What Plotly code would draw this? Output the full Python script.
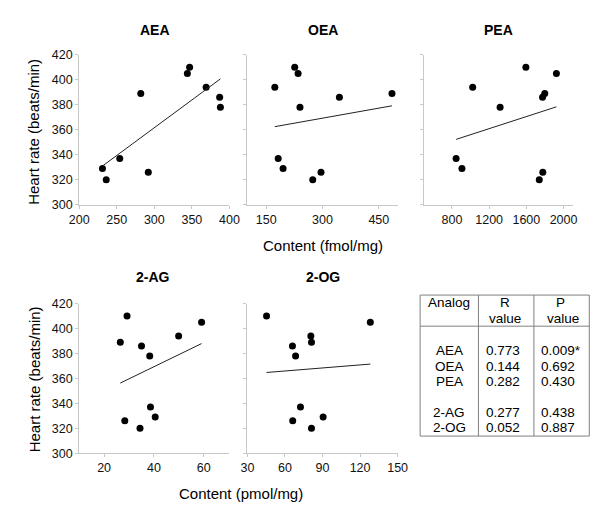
import numpy as np
import plotly.graph_objects as go

W, H = 600, 508

# ---------------- data ----------------
heart_rate = [329, 320, 337, 389, 326, 405, 410, 394, 386, 378]

aea_x = [231, 236, 254, 282, 292, 344, 347, 369, 387, 388]
aea_y = [329, 320, 337, 389, 326, 405, 410, 394, 386, 378]

oea_x = [226, 235, 173, 345, 485, 240, 182, 195, 296, 274]
oea_y = [410, 405, 394, 386, 389, 378, 337, 329, 326, 320]

pea_x = [1595, 1923, 1023, 1798, 1774, 1318, 845, 908, 1777, 1739]
pea_y = [410, 405, 394, 389, 386, 378, 337, 329, 326, 320]

ag_x = [29.2, 59.1, 49.9, 26.5, 35.0, 38.3, 38.6, 40.5, 28.3, 34.4]
ag_y = [410, 405, 394, 389, 386, 378, 337, 329, 326, 320]

og_x = [45.3, 128.2, 80.7, 81.2, 66.0, 68.5, 72.4, 90.5, 66.2, 81.2]
og_y = [410, 405, 394, 389, 386, 378, 337, 329, 326, 320]

panel_titles = ["AEA", "OEA", "PEA", "2-AG", "2-OG"]

table_analogs = ["AEA", "OEA", "PEA", "2-AG", "2-OG"]
table_r = ["0.773", "0.144", "0.282", "0.277", "0.052"]
table_p = ["0.009*", "0.692", "0.430", "0.438", "0.887"]

# ---------------- layout helpers ----------------
def fx(px):
    return px / W

def fy(py):
    return 1 - py / H

FONT = "Liberation Sans, Arial, sans-serif"
AX_COL = "#c8c8c8"

panels = [
    # x data, y data, x domain px, row, range, tick0, dtick
    (aea_x, aea_y, (63.3, 218.7), 0, [200, 400], 200, 50),
    (oea_x, oea_y, (237.3, 392.7), 0, [100, 500], 150, 150),
    (pea_x, pea_y, (420.0, 574.0), 0, [500, 2100], 800, 400),
    (ag_x, ag_y, (63.3, 218.0), 1, [10, 70], 0, 20),
    (og_x, og_y, (237.3, 392.7), 1, [30, 150], 30, 30),
]
row_y = [(41.0, 195.0), (296.7, 450.7)]

fig = go.Figure()
layout = dict(
    width=W, height=H,
    margin=dict(l=0, r=0, t=0, b=0),
    paper_bgcolor="white", plot_bgcolor="white",
    showlegend=False,
    font=dict(family=FONT, color="#000000", size=12.5),
)

annotations = []
shapes = []

for i, (xs, ys, (x0, x1), row, rng, t0, dt) in enumerate(panels):
    n = i + 1
    xa = "x" if n == 1 else f"x{n}"
    ya = "y" if n == 1 else f"y{n}"
    fig.add_trace(go.Scatter(
        x=xs, y=ys, mode="markers", xaxis=xa, yaxis=ya,
        marker=dict(color="black", size=7), cliponaxis=False,
    ))
    slope, icpt = np.polyfit(xs, ys, 1)
    lx = np.array([min(xs), max(xs)])
    fig.add_trace(go.Scatter(
        x=lx, y=slope * lx + icpt, mode="lines", xaxis=xa, yaxis=ya,
        line=dict(color="#222222", width=1),
    ))
    y0p, y1p = row_y[row]
    layout["xaxis" if n == 1 else f"xaxis{n}"] = dict(
        domain=[fx(x0), fx(x1)], anchor=ya, range=rng,
        tick0=t0, dtick=dt, tickmode="linear",
        showline=True, linecolor=AX_COL, linewidth=1,
        ticks="outside", ticklen=3, tickcolor=AX_COL,
        showgrid=False, zeroline=False,
        tickfont=dict(size=12.5, family=FONT, color="#111111"),
    )
    layout["yaxis" if n == 1 else f"yaxis{n}"] = dict(
        domain=[fy(y1p), fy(y0p)], anchor=xa, range=[300, 420],
        tick0=300, dtick=20, tickmode="linear",
        showline=True, linecolor=AX_COL, linewidth=1,
        ticks="outside", ticklen=3, tickcolor=AX_COL,
        showgrid=False, zeroline=False,
        showticklabels=(n in (1, 4)),
        tickfont=dict(size=12.5, family=FONT, color="#111111"),
    )

# panel titles
title_pos = [(141.3, 15), (315.5, 15), (496.8, 15), (139.2, 269.3), (315.3, 269.3)]
for t, (px, py) in zip(panel_titles, title_pos):
    annotations.append(dict(
        text=f"<b>{t}</b>", x=fx(px), y=fy(py), xref="paper", yref="paper",
        xanchor="center", yanchor="middle", showarrow=False,
        font=dict(size=14, family=FONT, color="#000000"),
    ))

# axis titles
for py in (120, 374.5):
    annotations.append(dict(
        text="Heart rate (beats/min)", x=fx(16.7), y=fy(py),
        xref="paper", yref="paper", xanchor="center", yanchor="middle",
        textangle=-90, showarrow=False,
        font=dict(size=15, family=FONT, color="#000000"),
    ))
annotations.append(dict(
    text="Content (fmol/mg)", x=fx(315), y=fy(237.3), xref="paper", yref="paper",
    xanchor="center", yanchor="middle", showarrow=False,
    font=dict(size=15, family=FONT, color="#000000"),
))
annotations.append(dict(
    text="Content (pmol/mg)", x=fx(231), y=fy(492), xref="paper", yref="paper",
    xanchor="center", yanchor="middle", showarrow=False,
    font=dict(size=15, family=FONT, color="#000000"),
))

# ---------------- table ----------------
TB_COL = "#808080"
tx0, tx1, ty0, ty1 = 416, 591, 288, 433
shapes.append(dict(type="rect", xref="paper", yref="paper",
                   x0=fx(tx0), x1=fx(tx1), y0=fy(ty1), y1=fy(ty0),
                   line=dict(color=TB_COL, width=1)))
for vx in (476.3, 533.7):
    shapes.append(dict(type="line", xref="paper", yref="paper",
                       x0=fx(vx), x1=fx(vx), y0=fy(ty1), y1=fy(ty0),
                       line=dict(color=TB_COL, width=1)))
shapes.append(dict(type="line", xref="paper", yref="paper",
                   x0=fx(tx0), x1=fx(tx1), y0=fy(320), y1=fy(320),
                   line=dict(color=TB_COL, width=1)))

TF = dict(size=13.5, family=FONT, color="#000000")

def txt(s, px, py, anchor="center"):
    annotations.append(dict(text=s, x=fx(px), y=fy(py), xref="paper", yref="paper",
                            xanchor=anchor, yanchor="middle", showarrow=False, font=TF))

txt("Analog", 446, 296)
txt("R", 504.3, 296)
txt("value", 504, 312)
txt("P", 561.7, 296)
txt("value", 563.7, 312)

row_ys = [345, 361, 377, 409, 424]
for name, r, p, py in zip(table_analogs, table_r, table_p, row_ys):
    txt(name, 446.3, py)
    txt(r, 482.0, py, "left")
    txt(p, 538.5, py, "left")

layout["annotations"] = annotations
layout["shapes"] = shapes
fig.update_layout(**layout)

fig.write_html("out.html")
